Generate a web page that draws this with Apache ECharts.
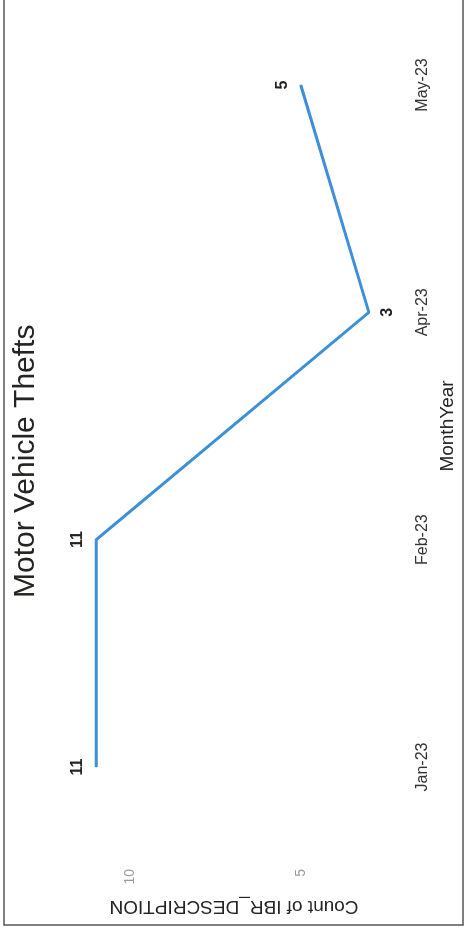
<!DOCTYPE html>
<html>
<head>
<meta charset="utf-8">
<title>Motor Vehicle Thefts</title>
<script src="https://cdn.jsdelivr.net/npm/echarts@6/dist/echarts.min.js"></script>
<style>
  html, body { margin: 0; padding: 0; background: #ffffff; overflow: hidden; }
  body { width: 466px; height: 934px; position: relative; }
  /* The chart is laid out landscape and turned a quarter turn counter-clockwise onto the portrait page */
  #chart {
    position: absolute; left: 0; top: 0;
    width: 934px; height: 466px;
    transform-origin: 0 0;
    transform: translate(0px, 934px) rotate(-90deg);
  }
</style>
</head>
<body>
<div id="chart"></div>
<script>
// Monthly counts of motor vehicle thefts
const months = ['Jan-23', 'Feb-23', 'Apr-23', 'May-23'];
const counts = [11, 11, 3, 5];
const valueTicks = [5, 10];

const chartTitle = 'Motor Vehicle Thefts';
const xAxisTitle = 'MonthYear';
const yAxisTitle = 'Count of IBR_DESCRIPTION';

const FONT = '"Liberation Sans", Arial, sans-serif';
const LINE_COLOR = '#3d8fd8';

// a point lower than both neighbours gets its label underneath the line
function isDip(i) {
  const prev = i > 0 ? counts[i - 1] : Infinity;
  const next = i < counts.length - 1 ? counts[i + 1] : Infinity;
  return counts[i] < prev && counts[i] < next;
}

const seriesData = counts.map((v, i) => ({
  value: v,
  label: { position: isDip(i) ? 'bottom' : 'top' }
}));

const chart = echarts.init(document.getElementById('chart'), null, { renderer: 'canvas' });

chart.setOption({
  animation: false,
  backgroundColor: '#ffffff',
  title: {
    text: chartTitle,
    left: 331,
    top: 6,
    textStyle: { fontFamily: FONT, fontSize: 30, fontWeight: 'normal', color: '#252423' }
  },
  grid: { left: 167, right: 85, top: 28, bottom: 63, containLabel: false },
  xAxis: {
    type: 'category',
    data: months,
    boundaryGap: false,
    axisLine: { show: false },
    axisTick: { show: false },
    splitLine: { show: false },
    axisLabel: { fontFamily: FONT, fontSize: 16, color: '#333333', margin: 12 },
    name: xAxisTitle,
    nameLocation: 'middle',
    nameGap: 35,
    nameTextStyle: { fontFamily: FONT, fontSize: 19, color: '#252423' }
  },
  yAxis: {
    type: 'value',
    min: 2,
    max: 13,
    interval: 1,
    axisLine: { show: false },
    axisTick: { show: false },
    splitLine: { show: false },
    axisLabel: {
      fontFamily: FONT, fontSize: 14, color: '#9a9a9a', margin: 102,
      formatter: v => (valueTicks.includes(v) ? String(v) : '')
    },
    name: yAxisTitle,
    nameLocation: 'middle',
    nameRotate: 90,
    nameGap: 130,
    nameTextStyle: { fontFamily: FONT, fontSize: 19, color: '#252423', padding: [0, 37, 0, 0] }
  },
  series: [{
    type: 'line',
    data: seriesData,
    // tiny markers keep the value labels attached to each point
    symbol: 'circle',
    symbolSize: 1,
    showSymbol: true,
    itemStyle: { color: LINE_COLOR },
    lineStyle: { color: LINE_COLOR, width: 3 },
    label: {
      show: true,
      distance: 10,
      fontFamily: FONT,
      fontSize: 16,
      fontWeight: 'bold',
      color: '#222222'
    }
  }],
  graphic: [{
    type: 'rect',
    shape: { x: 9, y: 4, width: 940, height: 459 },
    style: { fill: 'none', stroke: '#555555', lineWidth: 1.5 },
    silent: true
  }]
});
</script>
</body>
</html>
